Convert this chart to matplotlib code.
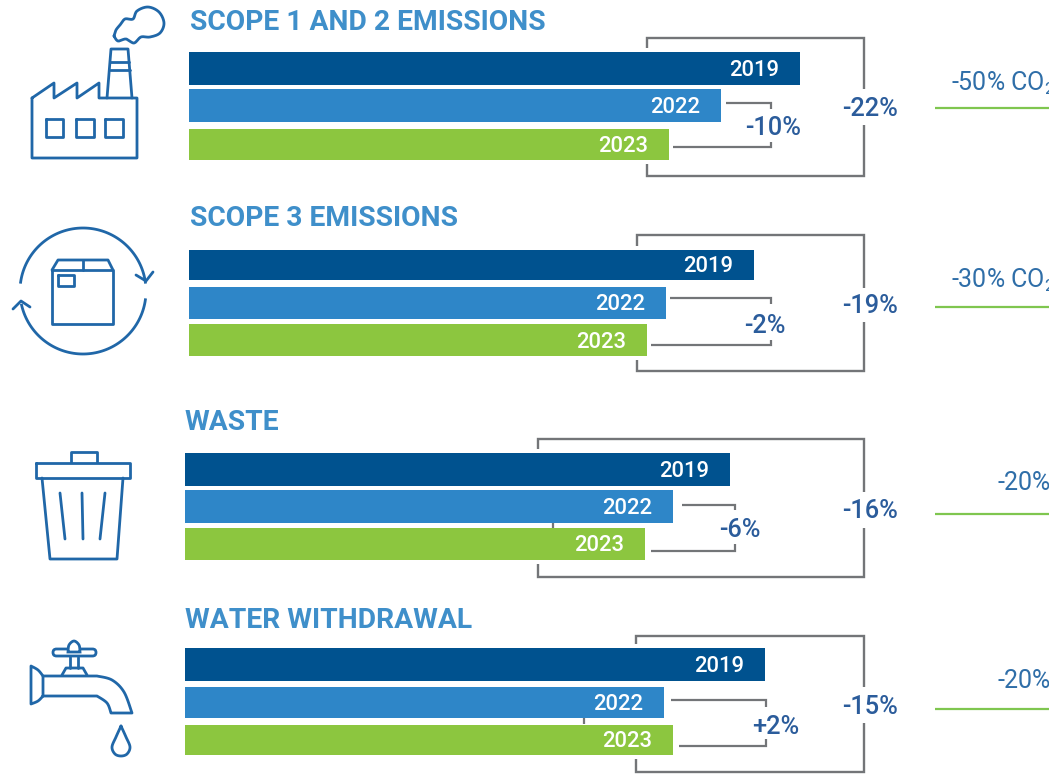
#!/usr/bin/env python3

import matplotlib
matplotlib.use("Agg")
import matplotlib.pyplot as plt
from matplotlib.patches import FancyBboxPatch
import numpy as np

plt.rcParams['font.family'] = ['Roboto', 'DejaVu Sans']
plt.rcParams['mathtext.fontset'] = 'custom'
plt.rcParams['mathtext.rm'] = 'Roboto'

# data, bar lengths
titles = ["SCOPE 1 AND 2 EMISSIONS", "SCOPE 3 EMISSIONS", "WASTE", "WATER WITHDRAWAL"]
years = ["2019", "2022", "2023"]
values_2019 = [611, 565, 545, 580]
values_2022 = [532, 477, 488, 479]
values_2023 = [480, 458, 460, 488]
change_total = ["-22%", "-19%", "-16%", "-15%"]
change_last = ["-10%", "-2%", "-6%", "+2%"]
targets = [r"-50% CO$_{\mathrm{2}}$", r"-30% CO$_{\mathrm{2}}$", "-20%", "-20%"]

# layout, figure pixels
bar_left = [189, 189, 185, 185]
title_x = [190, 190, 185, 185]
title_y = [22, 219, 423, 620]
bar_top = [[52, 89, 129], [250, 287, 324], [453, 490, 527.5], [648, 687, 724.5]]
bar_bottom = [[85, 122, 160], [280, 319, 356], [486, 523, 560], [681, 718, 755]]
outer_x = [647, 637, 537.5, 636]
outer_top = [38, 235, 439, 636]
outer_bot = [176, 371, 577, 772]
outer_gap = [(89, 125), (288, 322), (492, 528), (687, 723)]
inner_right = [771, 771, 735, 766]
inner_hi = [(726, 103, 109), (670, 298, 304), (682, 505, 510), (671, 700, 707)]
inner_lo = [(673, 147, 142), (651, 345, 340), (651, 551, 544), (679, 746, 739)]
inner_lab = [(773, 128), (765, 326), (740, 530), (776, 727)]
total_y = [109, 306, 511, 707]
green_y = [108, 307, 513.5, 709]
target_x = [951, 951, 997, 997]
target_y = [83, 280, 483, 681]
stubs = [None, None, (553, 523, 528), (584, 718, 724)]

c_dark = "#00528f"
c_mid = "#2e86c8"
c_green = "#8cc63f"
c_title = "#3f8fca"
c_label = "#2b5c9b"
c_target = "#2f6ea8"
c_gray = "#737578"
c_icon = "#2067a8"

fig = plt.figure(figsize=(10.49, 7.75), dpi=100)
ax = fig.add_axes([0, 0, 1, 1])
ax.set_xlim(0, 1049)
ax.set_ylim(775, 0)
ax.axis("off")

ICON_LW = 2.0


def line(xs, ys, color=c_icon, lw=1.7):
    ax.plot(xs, ys, color=color, lw=lw, solid_capstyle="butt", solid_joinstyle="miter")


def outline(pts, closed=True, lw=ICON_LW):
    pts = np.array(pts, dtype=float)
    if closed:
        pts = np.vstack([pts, pts[0]])
    ax.plot(pts[:, 0], pts[:, 1], color=c_icon, lw=lw, solid_joinstyle="round",
            solid_capstyle="round")


def smooth(pts, n=12):
    # catmull-rom through a point list, for the icon curves
    p = np.array(pts, dtype=float)
    p = np.vstack([p[0], p, p[-1]])
    out = []
    for i in range(1, len(p) - 2):
        for t in np.linspace(0, 1, n, endpoint=False):
            out.append(0.5 * (2 * p[i] + (p[i + 1] - p[i - 1]) * t
                              + (2 * p[i - 1] - 5 * p[i] + 4 * p[i + 1] - p[i + 2]) * t ** 2
                              + (3 * p[i] - p[i - 1] - 3 * p[i + 1] + p[i + 2]) * t ** 3))
    out.append(p[-2])
    return np.array(out)


def draw_factory():
    outline([(32, 98), (54, 83), (54, 98), (77, 83), (77, 98), (99, 83), (99, 98),
             (137, 98), (137, 158), (32, 158)])
    for x0, x1 in [(46, 63), (76, 94), (105, 123)]:
        outline([(x0, 119), (x1, 119), (x1, 137), (x0, 137)])
    outline([(107, 98), (111, 49), (128, 49), (132, 98)], closed=False)
    outline([(110, 62), (129, 62)], closed=False)
    outline([(110, 70), (130, 70)], closed=False)
    cloud = [(114, 36), (116, 30), (120, 25), (125, 19), (133, 19), (137, 11), (148, 7),
             (159, 12), (164, 23), (160, 33), (150, 37), (141, 37), (134, 43), (126, 39),
             (118, 41), (114, 36)]
    outline(smooth(cloud), closed=False)


def draw_box():
    outline([(52, 270), (113, 270), (113, 324), (52, 324)])
    outline([(52, 270), (58, 260), (108, 260), (113, 270)], closed=False)
    outline([(83, 260), (83, 270)], closed=False)
    outline([(58, 275), (74, 275), (74, 286), (58, 286)])
    cx, cy, r = 83, 291, 63
    for a0, a1 in [(172, 8), (-8, -167)]:
        t = np.radians(np.linspace(a0, a1, 80))
        ax.plot(cx + r * np.cos(t), cy - r * np.sin(t), color=c_icon, lw=ICON_LW)
    outline([(136, 275), (146, 281), (153, 272)], closed=False)
    outline([(13, 309), (21, 301), (30, 307)], closed=False)


def draw_bin():
    outline([(71, 462), (71, 452), (97, 452), (97, 462)], closed=False)
    outline([(36, 463), (130, 463), (130, 478), (36, 478)])
    outline([(42, 478), (50, 559), (117, 559), (123, 478)], closed=False)
    outline([(60, 493), (65, 539)], closed=False)
    outline([(82, 493), (83, 539)], closed=False)
    outline([(105, 493), (100, 539)], closed=False)


def draw_tap():
    ax.add_patch(FancyBboxPatch((53, 649), 43, 7, boxstyle="round,pad=0,rounding_size=3.5",
                                fc="white", ec=c_icon, lw=ICON_LW))
    dome = smooth([(68, 652), (69, 645), (74, 641), (79, 645), (80, 652)], 8)
    ax.fill(dome[:, 0], dome[:, 1], fc="white", ec=c_icon, lw=ICON_LW, zorder=3)
    outline([(70, 657), (70, 668)], closed=False)
    outline([(78, 657), (78, 668)], closed=False)
    outline([(62, 675), (66, 668), (83, 668), (87, 675)], closed=False)
    top = smooth([(97, 676), (112, 680), (124, 692), (132, 713)], 10)
    low = smooth([(111, 713), (107, 703), (97, 696)], 10)
    sp = np.vstack([[(43, 676)], top, low, [(43, 696)]])
    outline(sp, closed=False)
    fl = smooth([(43, 676), (38, 670), (31, 666)], 6)
    fr = smooth([(31, 704), (38, 701), (43, 696)], 6)
    outline(np.vstack([[(43, 696)], [(43, 676)], fl, fr]))
    drop = smooth([(121, 726), (116, 737), (112, 747), (115, 754), (121, 756),
                   (127, 754), (130, 747), (126, 737), (121, 726)], 8)
    outline(drop, closed=False)


draw_factory()
draw_box()
draw_bin()
draw_tap()

colors = [c_dark, c_mid, c_green]
series = [values_2019, values_2022, values_2023]

for i, title in enumerate(titles):
    ax.text(title_x[i], title_y[i], title, color=c_title, fontsize=20.3, fontweight="bold",
            va="center", ha="left")

    # bars
    for j, vals in enumerate(series):
        top = bar_top[i][j]
        ax.barh((top + bar_bottom[i][j]) / 2, vals[i], height=bar_bottom[i][j] - top,
                left=bar_left[i], color=colors[j], zorder=3)
        ax.text(bar_left[i] + vals[i] - 21, (top + bar_bottom[i][j]) / 2 + 2, years[j],
                color="white", fontsize=15.8, fontweight="medium", ha="right", va="center",
                zorder=4)

    # outer bracket
    g0, g1 = outer_gap[i]
    x0 = outer_x[i]
    line([x0, x0, 864, 864], [bar_top[i][0] - 4, outer_top[i], outer_top[i], g0], c_gray)
    line([x0, x0, 864, 864], [bar_bottom[i][2] + 4, outer_bot[i], outer_bot[i], g1], c_gray)

    # inner bracket
    r = inner_right[i]
    hx, hy, hy2 = inner_hi[i]
    lx, ly, ly2 = inner_lo[i]
    line([hx, r, r], [hy, hy, hy2], c_gray, 1.6)
    line([lx, r, r], [ly, ly, ly2], c_gray, 1.6)
    if stubs[i] is not None:
        sx, s0, s1 = stubs[i]
        line([sx, sx], [s0, s1], c_gray, 1.6)

    ax.text(870, total_y[i], change_total[i], color=c_label, fontsize=18.3, fontweight="medium",
            ha="center", va="center")
    ax.text(inner_lab[i][0], inner_lab[i][1], change_last[i], color=c_label, fontsize=18.3,
            fontweight="medium", ha="center", va="center")

    # target
    line([935, 1049], [green_y[i], green_y[i]], "#7fc64f", 1.6)
    ax.text(target_x[i], target_y[i], targets[i], color=c_target, fontsize=18, ha="left", va="center")

fig.savefig("out.png", dpi=100)
